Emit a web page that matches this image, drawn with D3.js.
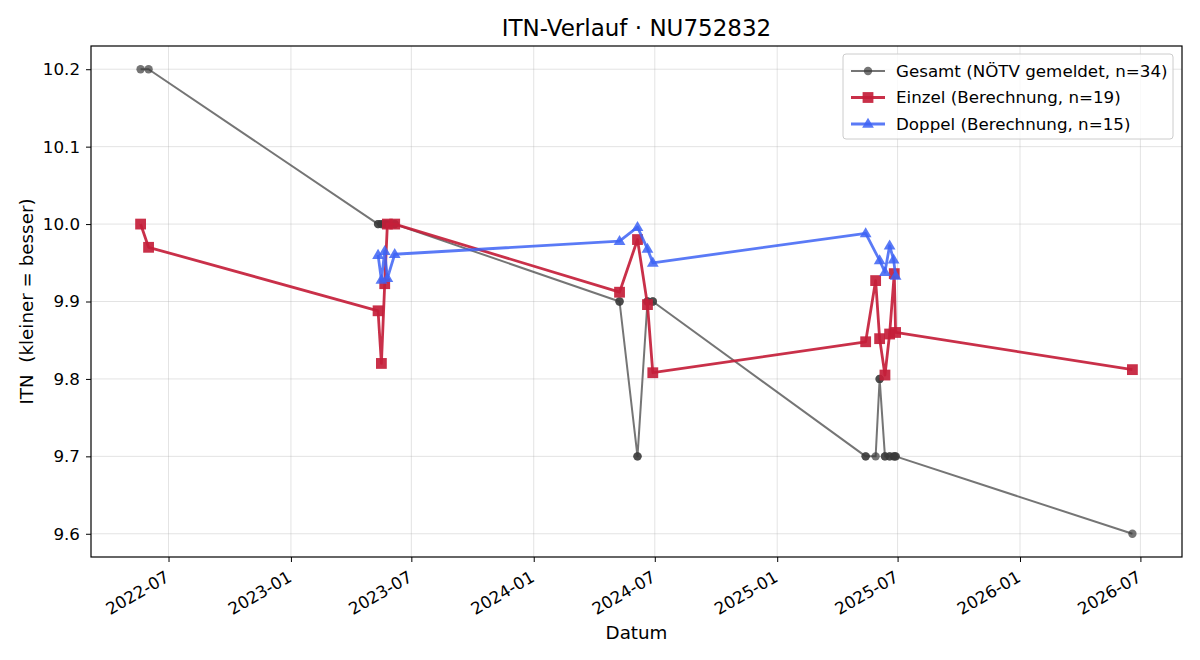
<!DOCTYPE html>
<html>
<head>
<meta charset="utf-8">
<script src="https://cdn.jsdelivr.net/npm/d3@7"></script>
<style>
  body { margin: 0; background: #fff; }
  svg { font-family: "DejaVu Sans", sans-serif; }
</style>
</head>
<body>
<svg class="main" width="1200" height="660"></svg>
<script>
(function () {
  'use strict';

  // Gesamt (NÖTV gemeldet), one entry per match
  const gesamtDates = [
    "2022-05-20", "2022-06-01",
    "2023-05-12", "2023-05-12", "2023-05-17", "2023-05-17", "2023-05-22", "2023-05-22",
    "2023-05-26", "2023-05-26", "2023-06-06", "2023-06-06",
    "2024-05-09", "2024-05-09", "2024-06-05", "2024-06-05", "2024-06-20", "2024-06-20",
    "2024-06-28", "2024-06-28",
    "2025-05-14", "2025-05-14", "2025-05-29", "2025-06-04", "2025-06-04", "2025-06-12",
    "2025-06-12", "2025-06-19", "2025-06-19", "2025-06-25", "2025-06-26", "2025-06-28",
    "2025-06-28", "2026-06-19"
  ];
  const gesamtITN = [
    10.2, 10.2,
    10.0, 10.0, 10.0, 10.0, 10.0, 10.0,
    10.0, 10.0, 10.0, 10.0,
    9.9, 9.9, 9.7, 9.7, 9.9, 9.9,
    9.9, 9.9,
    9.7, 9.7, 9.7, 9.8, 9.8, 9.7,
    9.7, 9.7, 9.7, 9.7, 9.7, 9.7,
    9.7, 9.6
  ];

  // Einzel (Berechnung)
  const einzelDates = [
    "2022-05-20", "2022-06-01",
    "2023-05-12", "2023-05-17", "2023-05-22", "2023-05-26", "2023-06-06",
    "2024-05-09", "2024-06-05", "2024-06-20", "2024-06-28",
    "2025-05-14", "2025-05-29", "2025-06-04", "2025-06-12", "2025-06-19", "2025-06-26", "2025-06-28",
    "2026-06-19"
  ];
  const einzelITN = [
    10.0, 9.97,
    9.888, 9.82, 9.923, 10.0, 10.0,
    9.912, 9.98, 9.896, 9.808,
    9.848, 9.927, 9.852, 9.805, 9.858, 9.936, 9.86,
    9.812
  ];

  // Doppel (Berechnung)
  const doppelDates = [
    "2023-05-12", "2023-05-17", "2023-05-22", "2023-05-26", "2023-06-06",
    "2024-05-09", "2024-06-05", "2024-06-20", "2024-06-28",
    "2025-05-14", "2025-06-04", "2025-06-12", "2025-06-19", "2025-06-25", "2025-06-28"
  ];
  const doppelITN = [
    9.96, 9.928, 9.965, 9.93, 9.961,
    9.978, 9.996, 9.968, 9.95,
    9.988, 9.953, 9.938, 9.972, 9.954, 9.933
  ];

  const yTicks = [9.6, 9.7, 9.8, 9.9, 10.0, 10.1, 10.2];

  const parse = d3.timeParse("%Y-%m-%d");
  const zip = (dates, vals) => dates.map((d, i) => ({ date: parse(d), value: vals[i] }));

  const series = [
    { name: "Gesamt (NÖTV gemeldet, n=34)", data: zip(gesamtDates, gesamtITN),
      color: "#3a3a3a", opacity: 0.7, width: 2, marker: "circle", size: 4.2 },
    { name: "Einzel (Berechnung, n=19)", data: zip(einzelDates, einzelITN),
      color: "#c41e3a", opacity: 0.92, width: 2.8, marker: "square", size: 5.4 },
    { name: "Doppel (Berechnung, n=15)", data: zip(doppelDates, doppelITN),
      color: "#3d63f5", opacity: 0.85, width: 2.8, marker: "triangle", size: 6.2 }
  ];

  const margin = { left: 91, right: 18, top: 46, bottom: 103 };
  const W = 1200, H = 660;
  const innerW = W - margin.left - margin.right;
  const innerH = H - margin.top - margin.bottom;
  const tickFont = 16.7;

  const svg = d3.select("svg.main");
  const g = svg.append("g").attr("transform", `translate(${margin.left}, ${margin.top})`);

  // 5% padding like matplotlib
  const allPts = series.flatMap(s => s.data);
  const [t0, t1] = d3.extent(allPts, d => d.date);
  const tPad = (t1 - t0) * 0.05;
  const [v0, v1] = d3.extent(allPts, d => d.value);
  const vPad = (v1 - v0) * 0.05;

  const x = d3.scaleTime()
    .domain([new Date(+t0 - tPad), new Date(+t1 + tPad)])
    .range([0, innerW]);
  const y = d3.scaleLinear()
    .domain([v0 - vPad, v1 + vPad])
    .range([innerH, 0]);

  const xTicks = x.ticks(d3.timeMonth.every(6));

  // grid
  g.append("g").selectAll("line").data(xTicks).join("line")
    .attr("x1", d => x(d)).attr("x2", d => x(d))
    .attr("y1", 0).attr("y2", innerH)
    .attr("stroke", "#b0b0b0").attr("stroke-opacity", 0.35).attr("stroke-width", 1);
  g.append("g").selectAll("line").data(yTicks).join("line")
    .attr("x1", 0).attr("x2", innerW)
    .attr("y1", d => y(d)).attr("y2", d => y(d))
    .attr("stroke", "#b0b0b0").attr("stroke-opacity", 0.35).attr("stroke-width", 1);

  // axes
  const xAxis = g.append("g")
    .attr("transform", `translate(0, ${innerH})`)
    .call(d3.axisBottom(x).tickValues(xTicks).tickFormat(d3.timeFormat("%Y-%m")).tickSize(5).tickSizeOuter(0))
    .attr("font-family", "DejaVu Sans")
    .attr("font-size", tickFont);
  xAxis.select(".domain").remove();
  xAxis.selectAll("text")
    .attr("fill", "#000")
    .attr("text-anchor", "end")
    .attr("y", 0)
    .attr("dy", null)
    .attr("transform", "translate(1.5, 23.5) rotate(-30)");
  xAxis.selectAll("line").attr("stroke", "#000");

  const yAxis = g.append("g")
    .call(d3.axisLeft(y).tickValues(yTicks).tickFormat(d3.format(".1f")).tickSize(5).tickSizeOuter(0))
    .attr("font-family", "DejaVu Sans")
    .attr("font-size", tickFont);
  yAxis.select(".domain").remove();
  yAxis.selectAll("text").attr("fill", "#000").attr("x", -11);
  yAxis.selectAll("line").attr("stroke", "#000");

  const line = d3.line().x(d => x(d.date)).y(d => y(d.value));

  function drawMarker(sel, s) {
    const r = s.size;
    if (s.marker === "circle") {
      sel.append("circle").attr("r", r);
    } else if (s.marker === "square") {
      sel.append("rect").attr("x", -r).attr("y", -r).attr("width", 2 * r).attr("height", 2 * r);
    } else {
      sel.append("path").attr("d", `M0,${-r} L${r * 0.95},${r * 0.62} L${-r * 0.95},${r * 0.62} Z`);
    }
  }

  series.forEach(s => {
    const sg = g.append("g");
    sg.append("path")
      .attr("d", line(s.data))
      .attr("fill", "none")
      .attr("stroke", s.color)
      .attr("stroke-opacity", s.opacity)
      .attr("stroke-width", s.width)
      .attr("stroke-linejoin", "round");
    s.data.forEach(d => {
      const m = sg.append("g")
        .attr("transform", `translate(${x(d.date)}, ${y(d.value)})`)
        .attr("fill", s.color)
        .attr("fill-opacity", s.opacity);
      drawMarker(m, s);
    });
  });

  // frame
  g.append("rect")
    .attr("width", innerW).attr("height", innerH)
    .attr("fill", "none").attr("stroke", "#000").attr("stroke-width", 1.2);

  // legend
  const lg = g.append("g").attr("transform", `translate(${innerW - 339}, 8)`);
  lg.append("rect")
    .attr("width", 330).attr("height", 85).attr("rx", 3)
    .attr("fill", "#fff").attr("fill-opacity", 0.8)
    .attr("stroke", "#ccc");
  series.forEach((s, i) => {
    const row = lg.append("g").attr("transform", `translate(0, ${17 + i * 26.5})`);
    row.append("line")
      .attr("x1", 8).attr("x2", 42)
      .attr("stroke", s.color).attr("stroke-opacity", s.opacity).attr("stroke-width", s.width);
    const m = row.append("g").attr("transform", "translate(25, 0)")
      .attr("fill", s.color).attr("fill-opacity", s.opacity);
    drawMarker(m, s);
    row.append("text")
      .attr("x", 53).attr("dy", "0.35em")
      .attr("font-size", 16.7)
      .text(s.name);
  });

  // labels
  svg.append("text")
    .attr("x", margin.left + innerW / 2).attr("y", 36)
    .attr("text-anchor", "middle").attr("font-size", 23)
    .text("ITN-Verlauf · NU752832");
  svg.append("text")
    .attr("x", margin.left + innerW / 2).attr("y", 639)
    .attr("text-anchor", "middle").attr("font-size", 18.3)
    .text("Datum");
  svg.append("text")
    .attr("transform", `translate(33, ${margin.top + innerH / 2}) rotate(-90)`)
    .attr("text-anchor", "middle").attr("font-size", 18.3)
    .attr("xml:space", "preserve")
    .text("ITN  (kleiner = besser)");
}());
</script>
</body>
</html>
